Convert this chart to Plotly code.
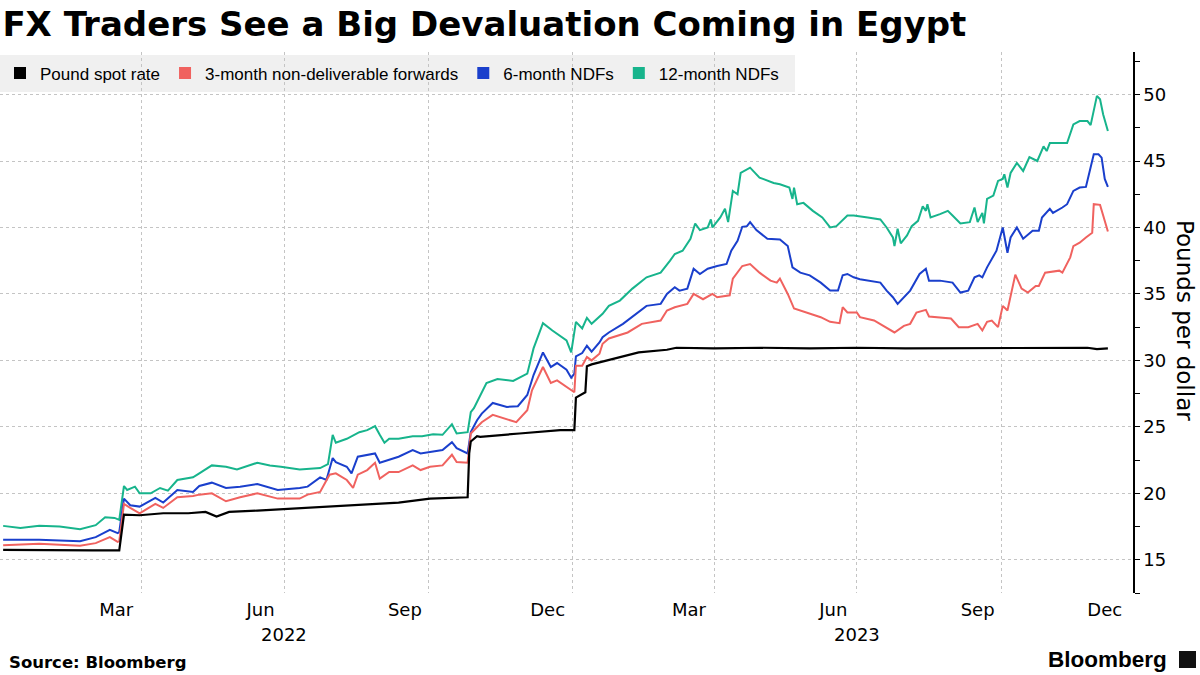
import plotly.graph_objects as go

# ---- data ----
spot_dates = ["2022-01-03", "2022-02-01", "2022-03-01", "2022-03-18", "2022-03-21", "2022-03-31",
              "2022-04-15", "2022-05-01", "2022-05-12", "2022-05-19", "2022-05-27", "2022-06-14",
              "2022-06-30", "2022-07-24", "2022-08-18", "2022-09-12", "2022-10-02", "2022-10-26",
              "2022-10-27", "2022-10-28", "2022-11-01", "2022-11-03", "2022-11-28", "2022-12-24",
              "2023-01-02", "2023-01-03", "2023-01-09", "2023-01-10", "2023-01-13", "2023-01-18",
              "2023-02-05", "2023-02-12", "2023-03-02", "2023-03-08", "2023-04-01", "2023-05-01",
              "2023-06-01", "2023-07-01", "2023-08-01", "2023-09-01", "2023-10-01", "2023-11-01",
              "2023-11-25", "2023-12-01", "2023-12-08"]
spot_vals = [15.75, 15.7, 15.7, 15.7, 18.4, 18.35,
             18.5, 18.5, 18.6, 18.25, 18.6, 18.7,
             18.8, 19.0, 19.1, 19.3, 19.6, 19.7,
             23.0, 23.9, 24.3, 24.25, 24.5, 24.75,
             24.75, 27.2, 27.6, 29.55, 29.7, 29.85,
             30.4, 30.6, 30.8, 30.95, 30.9, 30.95,
             30.9, 30.95, 30.9, 30.9, 30.95, 30.9,
             30.95, 30.85, 30.9]

m3_dates = ["2022-01-03", "2022-01-26", "2022-02-21", "2022-03-03", "2022-03-12", "2022-03-17",
            "2022-03-18", "2022-03-21", "2022-03-25", "2022-03-31", "2022-04-10", "2022-04-15",
            "2022-04-24", "2022-05-04", "2022-05-08", "2022-05-16", "2022-05-25", "2022-06-03",
            "2022-06-14", "2022-06-27", "2022-07-11", "2022-07-16", "2022-07-24", "2022-07-30",
            "2022-08-03", "2022-08-10", "2022-08-14", "2022-08-17", "2022-08-23", "2022-08-28",
            "2022-08-31", "2022-09-06", "2022-09-12", "2022-09-21", "2022-09-26", "2022-10-02",
            "2022-10-10", "2022-10-16", "2022-10-19", "2022-10-26", "2022-10-28", "2022-11-01",
            "2022-11-04", "2022-11-11", "2022-11-20", "2022-11-26", "2022-12-03", "2022-12-06",
            "2022-12-13", "2022-12-18", "2022-12-22", "2022-12-28", "2022-12-30", "2023-01-02",
            "2023-01-03", "2023-01-07", "2023-01-10", "2023-01-13", "2023-01-18", "2023-01-20",
            "2023-01-24", "2023-02-05", "2023-02-14", "2023-02-26", "2023-03-02", "2023-03-07",
            "2023-03-15", "2023-03-19", "2023-03-25", "2023-03-31", "2023-04-03", "2023-04-11",
            "2023-04-13", "2023-04-19", "2023-04-24", "2023-04-30", "2023-05-07", "2023-05-11",
            "2023-05-13", "2023-05-18", "2023-05-22", "2023-05-30", "2023-06-08", "2023-06-14",
            "2023-06-20", "2023-06-22", "2023-06-25", "2023-07-01", "2023-07-03", "2023-07-12",
            "2023-07-18", "2023-07-25", "2023-07-31", "2023-08-04", "2023-08-08", "2023-08-14",
            "2023-08-16", "2023-08-23", "2023-08-30", "2023-09-04", "2023-09-10", "2023-09-16",
            "2023-09-19", "2023-09-22", "2023-09-25", "2023-09-29", "2023-10-02", "2023-10-05",
            "2023-10-07", "2023-10-10", "2023-10-14", "2023-10-18", "2023-10-23", "2023-10-25",
            "2023-10-29", "2023-11-07", "2023-11-09", "2023-11-14", "2023-11-16", "2023-11-20",
            "2023-11-24", "2023-11-28", "2023-11-29", "2023-12-03", "2023-12-05", "2023-12-08"]
m3_vals = [16.1, 16.2, 16.05, 16.25, 16.7, 16.35,
           16.4, 19.2, 18.9, 18.5, 19.2, 18.9,
           19.7, 19.8, 19.9, 20.0, 19.4, 19.7,
           20.0, 19.6, 19.6, 19.9, 20.1, 21.4,
           21.5, 21.0, 20.4, 21.4, 21.75, 22.3,
           21.1, 21.6, 21.6, 22.1, 21.75, 22.0,
           22.1, 22.9, 22.35, 22.3, 24.5, 25.0,
           25.35, 25.9, 25.6, 25.35, 26.25, 27.75,
           29.5, 28.3, 28.5, 28.0, 27.9, 27.6,
           29.6, 29.6, 30.25, 30.0, 30.5, 31.25,
           31.65, 32.1, 32.75, 33.0, 33.75, 34.0,
           34.25, 35.0, 34.6, 35.0, 34.75, 34.9,
           36.15, 37.1, 37.25, 36.6, 36.0, 35.85,
           36.15, 35.0, 33.9, 33.6, 33.25, 32.9,
           32.8, 34.0, 33.6, 33.6, 33.25, 33.0,
           32.6, 32.1, 32.6, 32.75, 33.6, 33.8,
           33.3, 33.25, 33.15, 32.5, 32.5, 32.75,
           32.25, 32.9, 33.0, 32.5, 34.1, 33.75,
           34.75, 36.45, 35.4, 35.1, 35.6, 35.6,
           36.6, 36.75, 36.6, 37.75, 38.6, 38.85,
           39.25, 39.6, 41.75, 41.7, 40.9, 39.7]

m6_dates = ["2022-01-03", "2022-01-26", "2022-02-21", "2022-03-03", "2022-03-12", "2022-03-17",
            "2022-03-18", "2022-03-21", "2022-03-25", "2022-03-31", "2022-04-10", "2022-04-15",
            "2022-04-24", "2022-05-04", "2022-05-08", "2022-05-16", "2022-05-25", "2022-06-03",
            "2022-06-14", "2022-06-27", "2022-07-11", "2022-07-16", "2022-07-24", "2022-07-28",
            "2022-08-01", "2022-08-03", "2022-08-10", "2022-08-13", "2022-08-17", "2022-08-23",
            "2022-08-28", "2022-08-31", "2022-09-06", "2022-09-12", "2022-09-21", "2022-09-26",
            "2022-10-02", "2022-10-10", "2022-10-16", "2022-10-19", "2022-10-26", "2022-10-28",
            "2022-11-01", "2022-11-04", "2022-11-11", "2022-11-20", "2022-11-27", "2022-12-03",
            "2022-12-07", "2022-12-13", "2022-12-18", "2022-12-22", "2022-12-28", "2022-12-31",
            "2023-01-02", "2023-01-03", "2023-01-07", "2023-01-10", "2023-01-13", "2023-01-18",
            "2023-01-20", "2023-01-24", "2023-02-02", "2023-02-11", "2023-02-17", "2023-02-26",
            "2023-03-02", "2023-03-07", "2023-03-10", "2023-03-15", "2023-03-19", "2023-03-23",
            "2023-03-28", "2023-04-03", "2023-04-09", "2023-04-12", "2023-04-16", "2023-04-19",
            "2023-04-22", "2023-04-24", "2023-04-28", "2023-05-05", "2023-05-13", "2023-05-18",
            "2023-05-21", "2023-05-26", "2023-06-01", "2023-06-08", "2023-06-14", "2023-06-19",
            "2023-06-22", "2023-06-25", "2023-06-29", "2023-07-03", "2023-07-08", "2023-07-16",
            "2023-07-20", "2023-07-24", "2023-07-27", "2023-07-31", "2023-08-04", "2023-08-10",
            "2023-08-14", "2023-08-16", "2023-08-23", "2023-08-31", "2023-09-05", "2023-09-10",
            "2023-09-14", "2023-09-17", "2023-09-19", "2023-09-22", "2023-09-28", "2023-10-02",
            "2023-10-05", "2023-10-07", "2023-10-11", "2023-10-15", "2023-10-21", "2023-10-25",
            "2023-10-27", "2023-11-01", "2023-11-03", "2023-11-09", "2023-11-12", "2023-11-16",
            "2023-11-20", "2023-11-24", "2023-11-29", "2023-12-02", "2023-12-04", "2023-12-06",
            "2023-12-08"]
m6_vals = [16.5, 16.5, 16.4, 16.7, 17.25, 17.0,
           17.1, 19.6, 19.1, 19.0, 19.65, 19.3,
           20.25, 20.1, 20.55, 20.8, 20.4, 20.5,
           20.7, 20.25, 20.4, 20.5, 21.2, 21.0,
           22.65, 22.35, 22.0, 21.5, 22.75, 22.9,
           23.0, 22.3, 22.5, 22.75, 23.25, 23.0,
           23.1, 23.25, 23.85, 23.4, 23.0, 24.6,
           25.5, 26.0, 26.8, 26.5, 26.55, 27.4,
           28.9, 30.6, 29.5, 29.8, 29.3, 28.7,
           29.0, 30.3, 30.55, 31.1, 30.65, 31.35,
           31.75, 32.1, 32.75, 33.6, 34.1, 34.25,
           35.0, 35.5, 35.25, 35.4, 36.9, 36.5,
           36.9, 37.1, 37.25, 38.25, 39.0, 40.05,
           40.1, 40.4, 39.8, 39.15, 39.1, 38.6,
           37.0, 36.6, 36.4, 35.85, 35.25, 35.25,
           36.4, 36.5, 36.25, 36.1, 36.0, 35.85,
           35.25, 34.75, 34.25, 34.75, 35.25, 36.5,
           36.9, 36.0, 36.0, 35.85, 35.1, 35.25,
           36.25, 36.4, 36.25, 37.0, 38.25, 40.0,
           38.1, 39.25, 40.0, 39.15, 39.75, 39.75,
           40.75, 41.4, 41.1, 41.5, 41.75, 42.75,
           43.0, 43.05, 45.5, 45.5, 45.25, 43.65,
           43.05]

m12_dates = ["2022-01-03", "2022-01-14", "2022-01-26", "2022-02-08", "2022-02-21", "2022-03-03",
             "2022-03-09", "2022-03-15", "2022-03-18", "2022-03-21", "2022-03-23", "2022-03-28",
             "2022-03-31", "2022-04-07", "2022-04-13", "2022-04-18", "2022-04-24", "2022-05-04",
             "2022-05-08", "2022-05-16", "2022-05-25", "2022-06-01", "2022-06-14", "2022-06-22",
             "2022-06-29", "2022-07-11", "2022-07-24", "2022-07-29", "2022-08-01", "2022-08-03",
             "2022-08-10", "2022-08-18", "2022-08-23", "2022-08-28", "2022-08-31", "2022-09-03",
             "2022-09-06", "2022-09-12", "2022-09-21", "2022-09-27", "2022-10-04", "2022-10-10",
             "2022-10-16", "2022-10-19", "2022-10-26", "2022-10-28", "2022-10-30", "2022-11-03",
             "2022-11-07", "2022-11-14", "2022-11-24", "2022-12-03", "2022-12-07", "2022-12-13",
             "2022-12-19", "2022-12-28", "2022-12-31", "2023-01-03", "2023-01-07", "2023-01-10",
             "2023-01-13", "2023-01-20", "2023-01-24", "2023-01-31", "2023-02-08", "2023-02-17",
             "2023-02-26", "2023-03-04", "2023-03-07", "2023-03-12", "2023-03-17", "2023-03-20",
             "2023-03-23", "2023-03-28", "2023-03-30", "2023-03-31", "2023-04-05", "2023-04-08",
             "2023-04-10", "2023-04-13", "2023-04-16", "2023-04-18", "2023-04-24", "2023-04-30",
             "2023-05-09", "2023-05-13", "2023-05-19", "2023-05-21", "2023-05-22", "2023-05-24",
             "2023-05-28", "2023-06-03", "2023-06-09", "2023-06-14", "2023-06-18", "2023-06-25",
             "2023-06-29", "2023-07-08", "2023-07-16", "2023-07-20", "2023-07-24", "2023-07-25",
             "2023-07-27", "2023-07-29", "2023-08-02", "2023-08-05", "2023-08-09", "2023-08-12",
             "2023-08-14", "2023-08-15", "2023-08-17", "2023-08-23", "2023-08-28", "2023-08-31",
             "2023-09-05", "2023-09-11", "2023-09-14", "2023-09-16", "2023-09-19", "2023-09-20",
             "2023-09-22", "2023-09-26", "2023-09-29", "2023-10-02", "2023-10-03", "2023-10-05",
             "2023-10-07", "2023-10-11", "2023-10-15", "2023-10-19", "2023-10-24", "2023-10-28",
             "2023-10-30", "2023-11-01", "2023-11-12", "2023-11-16", "2023-11-20", "2023-11-25",
             "2023-11-27", "2023-12-01", "2023-12-03", "2023-12-05", "2023-12-08"]
m12_vals = [17.55, 17.4, 17.55, 17.5, 17.3, 17.6,
            18.2, 18.15, 18.0, 20.55, 20.25, 20.5,
            20.0, 20.0, 20.4, 20.2, 21.0, 21.2,
            21.5, 22.1, 22.0, 21.8, 22.3, 22.1,
            22.0, 21.8, 21.9, 22.2, 24.4, 23.8,
            24.1, 24.6, 24.75, 25.05, 24.4, 23.8,
            24.1, 24.1, 24.3, 24.3, 24.45, 24.4,
            25.2, 24.5, 24.6, 26.1, 26.4, 27.4,
            28.3, 28.6, 28.45, 29.0, 30.9, 32.8,
            32.25, 31.5, 30.6, 32.9, 32.4, 33.2,
            32.75, 33.5, 34.1, 34.5, 35.4, 36.25,
            36.6, 37.5, 38.0, 38.25, 39.15, 40.3,
            39.8, 40.0, 40.6, 40.0, 40.75, 41.4,
            40.4, 42.75, 42.5, 44.1, 44.5, 43.75,
            43.35, 43.25, 43.0, 42.15, 43.0, 41.75,
            41.85, 41.25, 40.75, 40.0, 40.1, 40.9,
            40.9, 40.75, 40.6, 40.0, 39.25, 38.6,
            39.9, 38.8, 39.4, 40.1, 40.5, 41.6,
            41.25, 41.75, 40.75, 41.0, 41.25, 40.9,
            40.3, 40.4, 41.5, 40.4, 41.1, 40.3,
            42.15, 42.4, 43.5, 43.65, 44.0, 43.0,
            44.1, 44.85, 44.25, 45.3, 45.0, 46.1,
            45.75, 46.35, 46.35, 47.75, 48.0, 48.0,
            47.7, 49.9, 49.65, 48.5, 47.25]

series_names = ["Pound spot rate", "3-month non-deliverable forwards", "6-month NDFs", "12-month NDFs"]
series_colors = ["#000000", "#f0625f", "#1a3fcc", "#17b48c"]

month_ticks = ["2022-03-16", "2022-06-16", "2022-09-16", "2022-12-16",
               "2023-03-16", "2023-06-16", "2023-09-16", "2023-12-06"]
month_labels = ["Mar", "Jun", "Sep", "Dec", "Mar", "Jun", "Sep", "Dec"]
quarter_lines = ["2022-04-01", "2022-07-01", "2022-10-01", "2023-01-01",
                 "2023-04-01", "2023-07-01", "2023-10-01"]
years = ["2022", "2023"]
year_centres = ["2022-07-01", "2023-07-01"]

W, H = 1200, 675
PL, PR, PT, PB = 0, 1133, 52, 593  # plot box in pixels


def px_x(x):
    return (x - PL) / (PR - PL)


def px_y(y):
    return (PB - y) / (PB - PT)


fig = go.Figure()

# line traces (black drawn last so it sits on top)
lines = [(m12_dates, m12_vals, 3), (m6_dates, m6_vals, 2), (m3_dates, m3_vals, 1), (spot_dates, spot_vals, 0)]
for xs, ys, i in lines:
    fig.add_trace(go.Scatter(x=xs, y=ys, mode="lines", name=series_names[i],
                             line=dict(color=series_colors[i], width=2.2 if i == 0 else 2),
                             showlegend=False, hoverinfo="skip"))

# legend entries as squares
for name, color in zip(series_names, series_colors):
    fig.add_trace(go.Scatter(x=[None], y=[None], mode="markers", name=name,
                             marker=dict(symbol="square", size=12, color=color)))

grid = "#c4c4c4"
fig.update_xaxes(type="date", range=["2022-01-01", "2023-12-24"],
                 tickmode="array", tickvals=month_ticks, ticktext=month_labels,
                 showgrid=False, ticks="", showline=False, zeroline=False,
                 ticklabelstandoff=4,
                 tickfont=dict(family="DejaVu Sans", size=18, color="#000000"),
                 minor=dict(tickmode="array", tickvals=quarter_lines, showgrid=True,
                            gridcolor=grid, griddash="dot", gridwidth=1, ticks=""),
                 automargin=False)
fig.update_yaxes(side="right", range=[12.5, 53.2], tickmode="linear", tick0=0, dtick=5,
                 showgrid=True, gridcolor=grid, griddash="dot", gridwidth=1,
                 showline=True, linecolor="#000000", linewidth=1.5,
                 ticks="outside", ticklen=5, tickcolor="#000000", tickwidth=1,
                 minor=dict(dtick=2.5, tick0=0, ticks="outside", ticklen=5,
                            tickcolor="#000000", tickwidth=1, showgrid=False),
                 tickfont=dict(family="DejaVu Sans", size=18, color="#000000"),
                 zeroline=False, automargin=False)

annotations = [
    dict(text="Pounds per dollar", x=px_x(1185), y=px_y(321), xref="paper", yref="paper",
         textangle=90, showarrow=False, xanchor="center", yanchor="middle",
         font=dict(family="DejaVu Sans", size=23, color="#000000")),
    dict(text="<b>Source: Bloomberg</b>", x=px_x(7), y=px_y(662), xref="paper", yref="paper",
         showarrow=False, xanchor="left", yanchor="middle",
         font=dict(family="DejaVu Sans", size=16.5, color="#000000")),
    dict(text="<b>Bloomberg</b>", x=px_x(1169), y=px_y(659), xref="paper", yref="paper",
         showarrow=False, xanchor="right", yanchor="middle",
         font=dict(family="Liberation Sans", size=22.5, color="#000000")),
]
for yr, c in zip(years, year_centres):
    annotations.append(dict(text=yr, x=c, y=px_y(634), xref="x", yref="paper",
                            showarrow=False, xanchor="center", yanchor="middle",
                            font=dict(family="DejaVu Sans", size=18, color="#000000")))

shapes = [
    # grey legend band, under the gridlines like the original
    dict(type="rect", xref="paper", yref="paper", x0=px_x(0), x1=px_x(795),
         y0=px_y(92), y1=px_y(55), fillcolor="#f0f0f0", line=dict(width=0), layer="below"),
    # little logo block next to the wordmark
    dict(type="rect", xref="paper", yref="paper", x0=px_x(1179), x1=px_x(1196),
         y0=px_y(668), y1=px_y(651), fillcolor="#111111", line=dict(width=0)),
]

fig.update_layout(
    width=W, height=H,
    margin=dict(l=PL, r=W - PR, t=PT, b=H - PB, autoexpand=False),
    paper_bgcolor="#ffffff", plot_bgcolor="#ffffff",
    title=dict(text="<b>FX Traders See a Big Devaluation Coming in Egypt</b>",
               x=0.002, xanchor="left", y=1 - 24 / H, yanchor="middle", yref="container",
               font=dict(family="DejaVu Sans", size=34, color="#000000")),
    legend=dict(orientation="h", x=0, y=px_y(73.5), xanchor="left", yanchor="middle",
                bgcolor="rgba(0,0,0,0)", borderwidth=0, itemwidth=30,
                font=dict(family="Liberation Sans", size=17, color="#000000"),
                traceorder="normal"),
    annotations=annotations,
    shapes=shapes,
    showlegend=True,
)

fig.write_html("out.html", config={"displayModeBar": False},
               post_script="document.body.style.margin='0';")
